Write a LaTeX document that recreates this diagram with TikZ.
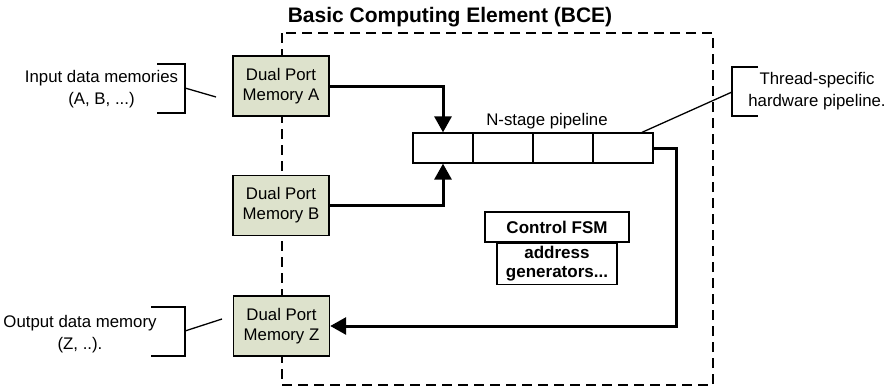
\documentclass[tikz,border=0pt]{standalone}
\usepackage{fontspec}
\setmainfont{Liberation Sans}
\usetikzlibrary{arrows.meta,calc}
\definecolor{memfill}{RGB}{221,226,204}
\tikzset{
  membox/.style={draw, line width=1.4pt, fill=memfill, minimum width=96pt, minimum height=60pt, inner sep=0pt, align=center, font=\fontsize{16.8}{20}\selectfont},
  cell/.style={draw, line width=1.3pt, minimum width=60pt, minimum height=30pt, inner sep=0pt},
  ctrlbox/.style={draw, line width=1.3pt, inner sep=0pt, align=center, font=\bfseries\fontsize{17}{20}\selectfont},
  lbl/.style={align=center, inner sep=0pt, font=\fontsize{16.8}{22}\selectfont},
  flow/.style={line width=3pt, -{Triangle[length=16pt,width=17pt]}},
  brk/.style={line width=1.3pt},
  bce/.style={line width=1.5pt, dash pattern=on 10pt off 6pt}
}
\begin{document}
\begin{tikzpicture}[x=1pt,y=-1pt]
\useasboundingbox (0,0) rectangle (892,388);
% BCE boundary
\draw[bce] (282,33) rectangle (713,385);
\node[font=\bfseries\fontsize{21}{24}\selectfont, inner sep=0pt] (title) at (450,17) {Basic Computing Element (BCE)};
% memories
\node[membox] (memA) at (281,86) {Dual Port\\Memory A};
\node[membox] (memB) at (281,205.5) {Dual Port\\Memory B};
\node[membox] (memZ) at (281.5,326) {Dual Port\\Memory Z};
% pipeline
\node[cell] (p1) at (443,148) {};
\node[cell] (p2) at (503,148) {};
\node[cell] (p3) at (563,148) {};
\node[cell] (p4) at (623,148) {};
\node[font=\fontsize{16.8}{20}\selectfont, inner sep=0pt] (plabel) at (547,121) {N-stage pipeline};
% control
\node[ctrlbox, minimum width=144pt, minimum height=30pt] (fsm) at (557,227) {Control FSM};
\node[ctrlbox, minimum width=120pt, minimum height=41pt, anchor=north] (addr) at (fsm.south) {address\\[-1pt]generators...};
% flows
\draw[flow] (memA.east) -| (p1.north);
\draw[flow] (memB.east) -| (p1.south);
\coordinate (turn) at (676,148);
\draw[flow] (p4.east) -- (turn) |- (memZ.east);
% labels
\node[lbl] (inlbl) at (101.5,89) {Input data memories\\(A, B, ...)};
\node[lbl] (outlbl) at (80,334) {Output data memory\\(Z, ..).};
\node[lbl] (thlbl) at (817,91) {Thread-specific\\hardware pipeline.};
% brackets
\draw[brk] (157,64) -- (185,64) -- (185,113) -- (157,113);
\coordinate (inb) at (185,88);
\coordinate (ine) at (216,97);
\draw[brk] (inb) -- (ine);
\draw[brk] (151,307) -- (185,307) -- (185,356) -- (151,356);
\coordinate (outb) at (185,331);
\coordinate (oute) at (222,319);
\draw[brk] (outb) -- (oute);
\draw[brk] (758,67) -- (732,67) -- (732,116) -- (758,116);
\coordinate (thb) at (732,92);
\draw[brk] (thb) -- ($(p4.north)+(19,0)$);
\end{tikzpicture}
\end{document}
